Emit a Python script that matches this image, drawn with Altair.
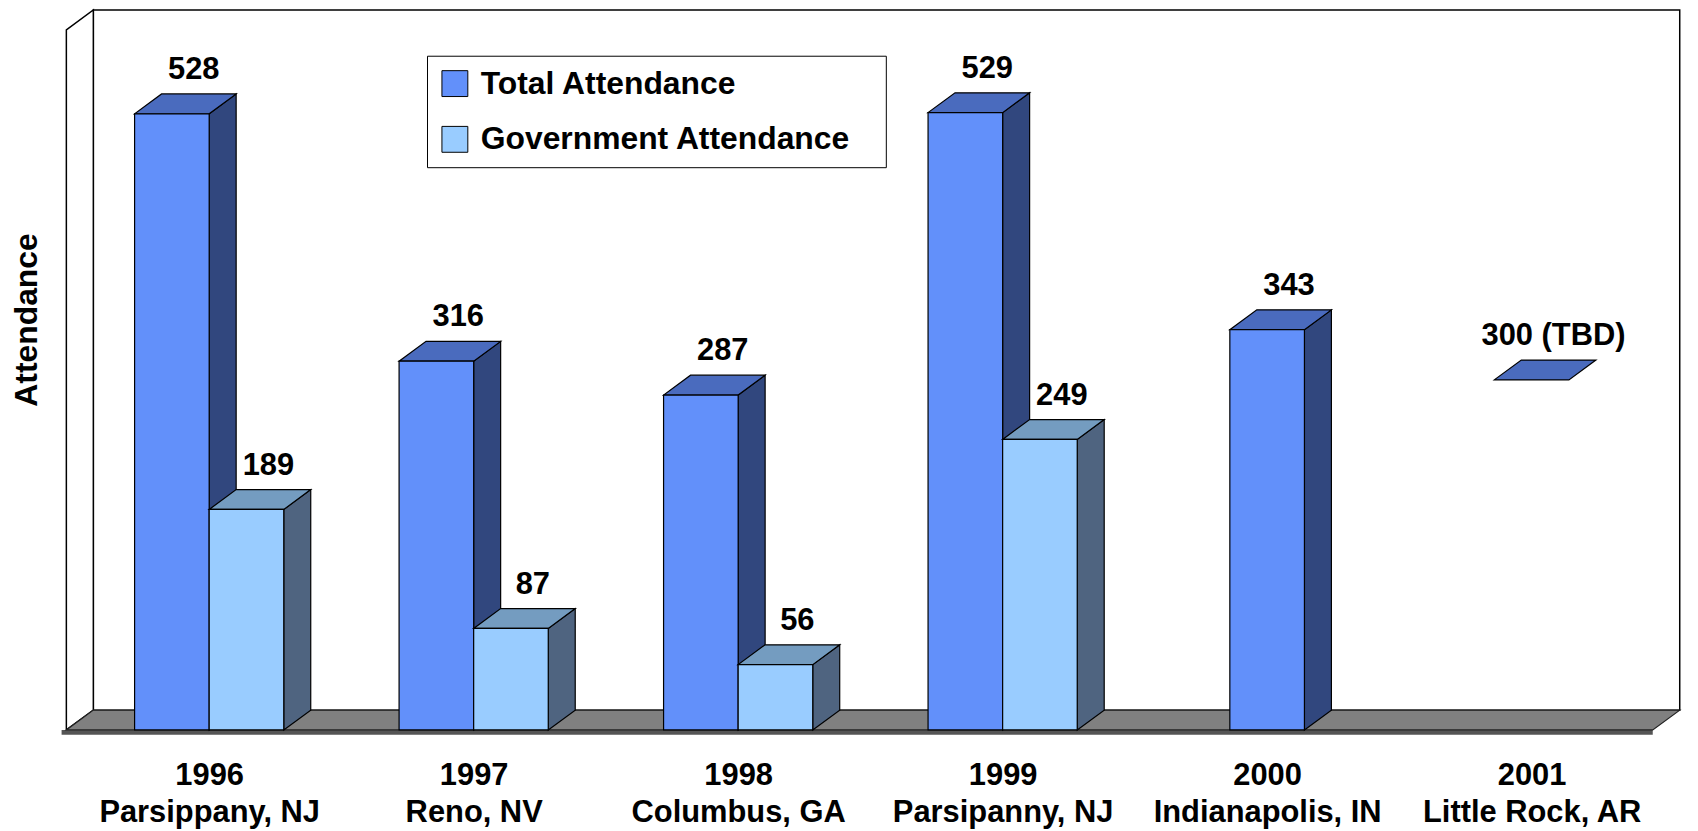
import json
import altair as alt
import pandas as pd

# ---------------- data ----------------
years = ["1996", "1997", "1998", "1999", "2000", "2001"]
cities = ["Parsippany, NJ", "Reno, NV", "Columbus, GA", "Parsipanny, NJ",
          "Indianapolis, IN", "Little Rock, AR"]
total_attendance = [528, 316, 287, 529, 343, 300]
government_attendance = [189, 87, 56, 249, None, None]
total_labels = ["528", "316", "287", "529", "343", "300 (TBD)"]
projected = [False, False, False, False, False, True]
series_names = ["Total Attendance", "Government Attendance"]

# ---------------- style ----------------
FONT = "Liberation Sans"
front_colors = ["#6290FA", "#99CCFF"]
top_colors = ["#4A6BBE", "#749CC0"]
side_colors = ["#31477E", "#4F6480"]
BAR_W = 0.282      # bar width, in category spacings
DX = 0.102         # 3-D depth, horizontal (category units)
DY = 17            # 3-D depth, vertical (attendance units)
WALL_TOP = 600
WALL_LEFT = -0.54
WALL_RIGHT = 5.56
XS = alt.Scale(domain=[-0.58, 5.58], nice=False, zero=False)
YS = alt.Scale(domain=[-9, 617], nice=False, zero=False)

x_axis = alt.Axis(
    values=list(range(len(years))),
    labelExpr=f"[{json.dumps(years)}[datum.value], {json.dumps(cities)}[datum.value]]",
    title="", grid=False, ticks=False, domain=False,
    labelFont=FONT, labelFontSize=31, labelFontWeight="bold", labelColor="black",
    labelPadding=20, labelLineHeight=37, labelOverlap=False, labelFlush=False,
    labelBound=False, labelLimit=0,
)
y_axis = alt.Axis(
    title="Attendance", labels=False, ticks=False, domain=False, grid=False,
    titleFont=FONT, titleFontSize=32, titleFontWeight="bold", titleColor="black",
    titleAngle=270, titleX=-29, titleY=311, titleAlign="center", titleBaseline="middle",
)


def X(f="x"):
    return alt.X(f"{f}:Q", scale=XS, axis=x_axis)


def Y(f="y"):
    return alt.Y(f"{f}:Q", scale=YS, axis=y_axis)


# ---------------- derived geometry tables ----------------
front_rows, side_rows, top_rows, label_rows = [], [], [], []
for i in range(len(years)):
    bars = []
    if government_attendance[i] is not None:
        bars.append((0, total_attendance[i], i - BAR_W, i, total_labels[i]))
        bars.append((1, government_attendance[i], i, i + BAR_W, str(government_attendance[i])))
    else:
        bars.append((0, total_attendance[i], i - BAR_W / 2, i + BAR_W / 2, total_labels[i]))
    for s, v, xl, xr, lab in bars:
        bid = f"{years[i]}-{s}"
        name = series_names[s]
        label_rows.append(dict(series=name, xc=(xl + xr) / 2, v=v, label=lab))
        top_rows += [
            dict(series=name, bar=bid, x=xl, y=v, y2=v),
            dict(series=name, bar=bid, x=xl + DX, y=v, y2=v + DY),
            dict(series=name, bar=bid, x=xr, y=v, y2=v + DY),
            dict(series=name, bar=bid, x=xr + DX, y=v + DY, y2=v + DY),
        ]
        if projected[i]:
            continue
        front_rows.append(dict(series=name, x=xl, x2=xr, y=v, y2=0))
        side_rows += [
            dict(series=name, bar=bid, x=xr, y=0, y2=v),
            dict(series=name, bar=bid, x=xr + DX, y=DY, y2=v + DY),
        ]

front_df = pd.DataFrame(front_rows)
side_df = pd.DataFrame(side_rows)
top_df = pd.DataFrame(top_rows)
label_df = pd.DataFrame(label_rows)

back_wall = pd.DataFrame([dict(x=WALL_LEFT + DX, x2=WALL_RIGHT, y=DY, y2=WALL_TOP + DY)])
left_wall = pd.DataFrame([dict(x=WALL_LEFT, y=0, y2=WALL_TOP),
                          dict(x=WALL_LEFT + DX, y=DY, y2=WALL_TOP + DY)])
floor = pd.DataFrame([dict(x=WALL_LEFT, y=0, y2=0),
                      dict(x=WALL_LEFT + DX, y=0, y2=DY),
                      dict(x=WALL_RIGHT - DX, y=0, y2=DY),
                      dict(x=WALL_RIGHT, y=DY, y2=DY)])
floor_edge = pd.DataFrame([dict(x=WALL_LEFT - 0.018, x2=WALL_RIGHT - DX, y=-4, y2=0)])

# ---------------- layers ----------------
layers = []
layers.append(alt.Chart(back_wall).mark_rect(fill="white", stroke="black", strokeWidth=1.5)
              .encode(x=X(), x2="x2:Q", y=Y(), y2="y2:Q"))
layers.append(alt.Chart(left_wall).mark_area(fill="white", stroke="black", strokeWidth=1.5)
              .encode(x=X(), y=Y(), y2="y2:Q"))
layers.append(alt.Chart(floor_edge).mark_rect(fill="#555555")
              .encode(x=X(), x2="x2:Q", y=Y(), y2="y2:Q"))
layers.append(alt.Chart(floor).mark_area(fill="#808080", stroke="#222222", strokeWidth=1.2)
              .encode(x=X(), y=Y(), y2="y2:Q"))

color = alt.Color(
    "series:N",
    scale=alt.Scale(domain=series_names, range=front_colors),
    legend=alt.Legend(
        orient="none", legendX=373, legendY=46, title=None,
        symbolType="square", symbolSize=676, symbolStrokeColor="black",
        symbolStrokeWidth=1, labelFont=FONT, labelFontSize=32,
        labelFontWeight="bold", labelColor="black", labelOffset=10,
        rowPadding=24, padding=12, strokeColor="black", fillColor="white",
        labelLimit=0,
        labelExpr="datum.label + '\u2800'",
    ),
)

for s in range(2):
    name = series_names[s]
    layers.append(alt.Chart(side_df).transform_filter(alt.datum.series == name)
                  .mark_area(fill=side_colors[s], stroke="black", strokeWidth=1.2)
                  .encode(x=X(), y=Y(), y2="y2:Q", detail="bar:N"))
    layers.append(alt.Chart(top_df).transform_filter(alt.datum.series == name)
                  .mark_area(fill=top_colors[s], stroke="black", strokeWidth=1.2)
                  .encode(x=X(), y=Y(), y2="y2:Q", detail="bar:N"))
    layers.append(alt.Chart(front_df).transform_filter(alt.datum.series == name)
                  .mark_rect(stroke="black", strokeWidth=1.2, opacity=1)
                  .encode(x=X(), x2="x2:Q", y=Y(), y2="y2:Q", color=color))

layers.append(alt.Chart(label_df).mark_text(
    font=FONT, fontSize=31, fontWeight="bold", color="black",
    baseline="alphabetic", align="center", dx=22, dy=-35)
    .encode(x=X("xc"), y=Y("v"), text="label:N"))

chart = alt.layer(*layers).properties(
    width=1637, height=734,
    autosize=alt.AutoSizeParams(type="none"),
    padding={"left": 48, "top": 0, "right": 5, "bottom": 89},
    background="white",
).configure_view(strokeWidth=0)

chart.save("out.html", embed_options={"renderer": "svg", "actions": False})
